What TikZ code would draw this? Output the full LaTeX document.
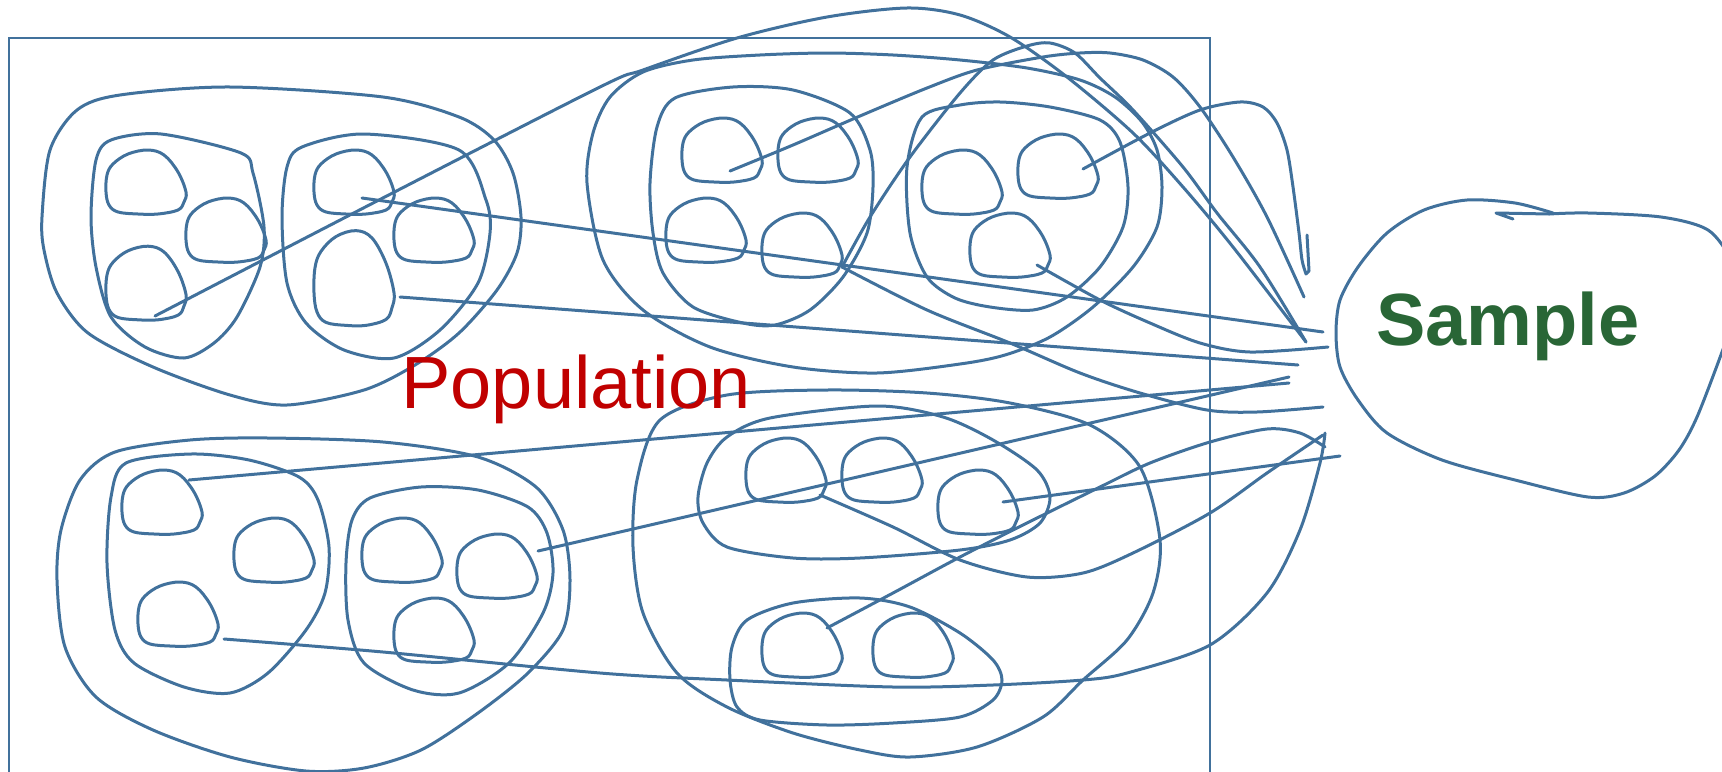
\documentclass[tikz,border=0pt]{standalone}
\usepackage{fontspec}
\setmainfont{Liberation Sans}
\definecolor{ink}{RGB}{65,113,156}
\definecolor{popred}{RGB}{192,0,0}
\definecolor{sampgreen}{RGB}{41,102,54}
\tikzset{
  ln/.style={draw=ink, line width=1.5pt, line join=round, line cap=round},
  frame/.style={draw=ink, line width=1.2pt},
  cell/.pic={\draw[ln] plot[smooth cycle,tension=0.6] coordinates {(2,-32)(18,-27)(32,-10)(40,10)(38,20)(32,28)(12,32)(-8,32)(-28,30)(-37,23)(-40,10)(-39,-7)(-33,-18)(-18,-28)};}
}
\begin{document}
\begin{tikzpicture}[x=0.5pt,y=-0.5pt]
\useasboundingbox (0,0) rectangle (1722,771);
\begin{scope}
\clip (0,0) rectangle (1722,771);
% frame
\draw[frame] (9,38) rectangle (1210,820);

% ---------- cell centres ----------
\coordinate (c1) at (146,182); \coordinate (c2) at (226,230); \coordinate (c3) at (146,283);
\coordinate (d1) at (354,182); \coordinate (d2) at (434,230); \coordinate (d3) at (354,278);
\coordinate (b1) at (722,150); \coordinate (b2) at (818,150); \coordinate (b3) at (706,230); \coordinate (b4) at (802,245);
\coordinate (e1) at (962,182); \coordinate (e2) at (1058,166); \coordinate (e3) at (1010,245);
\coordinate (f1) at (162,502); \coordinate (f2) at (274,550); \coordinate (f3) at (178,614);
\coordinate (g1) at (402,550); \coordinate (g2) at (497,566); \coordinate (g3) at (434,630);
\coordinate (h1) at (786,470); \coordinate (h2) at (882,470); \coordinate (h3) at (978,502);
\coordinate (i1) at (802,645); \coordinate (i2) at (913,645);

% ---------- top-left group ----------
\draw[ln] plot[smooth cycle] coordinates {(42,217)(50,150)(77,110)(120,95)(230,87)(383,97)(459,117)(494,140)(513,173)(521,217)(517,253)(497,290)(459,333)(415,365)(364,390)(287,405)(230,395)(153,367)(88,333)(57,293)(44,250)};
\draw[ln] plot[smooth cycle] coordinates {(96,160)(111,140)(161,134)(241,153)(253,173)(264,227)(260,267)(237,317)(214,343)(184,358)(145,347)(111,317)(96,267)(91,217)};
\draw[ln] plot[smooth cycle] coordinates {(287,167)(302,147)(364,134)(459,150)(486,200)(490,233)(478,283)(440,330)(394,358)(344,350)(306,323)(287,283)(282,217)};
\pic at (c1) {cell}; \pic at (c2) {cell}; \pic[yscale=1.15] at (c3) {cell};
\pic at (d1) {cell}; \pic at (d2) {cell}; \pic[yscale=1.48] at (d3) {cell};

% ---------- top-right group ----------
\draw[ln] plot[smooth cycle] coordinates {(587,183)(593,133)(610,97)(643,72)(693,60)(760,55)(827,53)(893,55)(960,60)(1027,68)(1080,80)(1115,97)(1142,122)(1157,150)(1162,187)(1157,227)(1133,267)(1093,307)(1050,337)(1005,355)(960,364)(877,373)(793,367)(710,347)(643,310)(603,260)};
\draw[ln] plot[smooth cycle] coordinates {(657,127)(675,98)(733,87)(793,90)(850,113)(870,150)(873,187)(867,233)(843,277)(810,310)(775,325)(743,323)(693,307)(663,273)(653,233)(650,183)};
\draw[ln] plot[smooth cycle] coordinates {(907,167)(922,117)(960,105)(1000,102)(1050,107)(1100,120)(1120,142)(1128,187)(1123,227)(1100,267)(1067,297)(1033,310)(990,307)(955,298)(927,277)(910,233)};
\pic at (b1) {cell}; \pic at (b2) {cell}; \pic at (b3) {cell}; \pic at (b4) {cell};
\pic at (e1) {cell}; \pic at (e2) {cell}; \pic at (e3) {cell};

% ---------- bottom-left group ----------
\draw[ln] plot[smooth cycle] coordinates {(61,530)(80,480)(115,452)(190,440)(268,438)(383,442)(478,457)(536,487)(563,530)(570,580)(563,630)(528,673)(478,713)(421,750)(364,768)(306,771)(230,757)(153,730)(96,697)(65,647)(57,580)};
\draw[ln] plot[smooth cycle] coordinates {(111,497)(126,463)(191,454)(249,460)(299,477)(318,500)(329,547)(325,593)(306,630)(268,673)(230,693)(184,687)(134,663)(115,630)(107,563)};
\draw[ln] plot[smooth cycle] coordinates {(352,520)(370,498)(421,487)(478,490)(528,507)(547,533)(553,573)(543,613)(509,663)(459,693)(413,690)(364,663)(348,620)(346,563)};
\pic at (f1) {cell}; \pic at (f2) {cell}; \pic at (f3) {cell};
\pic at (g1) {cell}; \pic at (g2) {cell}; \pic at (g3) {cell};

% ---------- bottom-right group ----------
\draw[ln] plot[smooth cycle] coordinates {(633,547)(637,480)(660,420)(727,395)(827,390)(927,393)(1010,403)(1090,425)(1140,467)(1160,540)(1153,593)(1127,640)(1083,680)(1043,717)(977,747)(910,757)(860,750)(793,733)(727,707)(677,673)(643,613)};
\draw[ln] plot[smooth cycle] coordinates {(727,437)(770,418)(877,406)(943,417)(993,440)(1037,470)(1050,497)(1040,523)(1010,540)(960,550)(860,558)(793,558)(727,547)(703,523)(698,497)(707,463)};
\draw[ln] plot[smooth cycle] coordinates {(747,620)(793,603)(860,598)(910,607)(960,633)(993,660)(1002,680)(993,700)(960,717)(893,723)(827,725)(760,720)(737,707)(730,680)(732,647)};
\pic at (h1) {cell}; \pic at (h2) {cell}; \pic at (h3) {cell};
\pic at (i1) {cell}; \pic at (i2) {cell};

% ---------- sample blob ----------
\coordinate (st1) at (1513,219); \coordinate (st2) at (1496,213); \coordinate (st3) at (1549,214);
\draw[ln] (st1) -- (st2) -- (st3);
\draw[ln] plot[smooth] coordinates {(st3)(1588,213)(1661,217)(1708,230)(1732,262)(1740,300)(1722,352)(1697,417)(1679,450)(1655,476)(1624,493)(1588,497)(1515,480)(1442,460)(1387,433)(1358,400)(1340,367)(1336,333)(1340,300)(1358,267)(1387,233)(1424,210)(1467,200)(1515,203)(1553,213)};

% ---------- connector start / end points ----------
\coordinate (sL1) at (155,316);  \coordinate (tL1) at (1306,342);
\coordinate (sL2) at (362,198);  \coordinate (tL2) at (1323,332);
\coordinate (sL3) at (400,297);  \coordinate (tL3) at (1298,365);
\coordinate (sB1) at (730,171);  \coordinate (tB1) at (1304,297);
\coordinate (sB4) at (842,267);  \coordinate (tB4a) at (1306,342); \coordinate (tB4b) at (1323,407);
\coordinate (sE2) at (1083,169); \coordinate (tE2) at (1307,235);
\coordinate (sE3) at (1037,265); \coordinate (tE3) at (1328,347);
\coordinate (sF1) at (189,480);  \coordinate (tF1) at (1289,383);
\coordinate (sG2) at (538,551);  \coordinate (tG2) at (1289,377);
\coordinate (sF3) at (224,639);  \coordinate (tF3) at (1325,433);
\coordinate (sH1) at (820,495);  \coordinate (tH1) at (1323,435);
\coordinate (sH3) at (1003,502); \coordinate (tH3) at (1340,456);
\coordinate (sI1) at (827,628);  \coordinate (tI1) at (1325,447);

% ---------- connectors ----------
\draw[ln] plot[smooth] coordinates {(sL1)(377,201)(600,87)(643,70)(737,38)(827,17)(907,8)(960,15)(1010,37)(1067,77)(1133,133)(1183,187)(1233,247)(tL1)};
\draw[ln] plot[smooth] coordinates {(sB1)(793,145)(860,116)(927,88)(977,70)(1043,57)(1080,53)(1110,53)(1143,60)(1173,77)(1200,107)(1233,157)(1267,217)(tB1)};
\draw[ln] plot[smooth] coordinates {(sB4)(870,217)(910,157)(960,93)(993,60)(1027,46)(1050,43)(1075,53)(1100,78)(1133,110)(1183,167)(1217,213)(1260,267)(tB4a)};
\draw[ln] plot[smooth] coordinates {(sB4)(927,310)(1010,343)(1080,373)(1140,393)(1207,410)(1257,412)(tB4b)};
\draw[ln] plot[smooth] coordinates {(sE2)(1150,133)(1200,110)(1240,102)(1263,107)(1277,123)(1287,150)(1293,187)(1299,233)(1302,260)(1306,274)} -- (1309,271) -- (tE2);
\draw[ln] plot[smooth] coordinates {(sE3)(1100,300)(1150,323)(1200,343)(1250,352)(tE3)};
\draw[ln] (sL2) -- (tL2);
\draw[ln] (sL3) -- (tL3);
\draw[ln] (sF1) -- (tF1);
\draw[ln] (sG2) -- (tG2);
\draw[ln] (sH3) -- (tH3);
\draw[ln] plot[smooth] coordinates {(sH1)(893,527)(960,560)(1027,577)(1083,573)(1133,553)(1210,513)(1267,473)(tH1)};
\draw[ln] plot[smooth] coordinates {(sI1)(893,593)(960,557)(1027,523)(1100,487)(1150,463)(1210,442)(1267,429)(1300,433)(tI1)};
\draw[ln] plot[smooth] coordinates {(sF3)(383,652)(600,673)(727,680)(893,687)(993,685)(1083,680)(1127,673)(1210,645)(1267,593)(1300,530)(1320,463)(tF3)};

% ---------- labels ----------
\node[anchor=base west, inner sep=0, text=popred, font=\fontsize{37}{40}\selectfont] (pop) at (401,408) {Population};
\node[anchor=base west, inner sep=0, text=sampgreen, font=\fontsize{37}{40}\selectfont\bfseries] (samp) at (1376,345) {Sample};
\end{scope}
\end{tikzpicture}
\end{document}
